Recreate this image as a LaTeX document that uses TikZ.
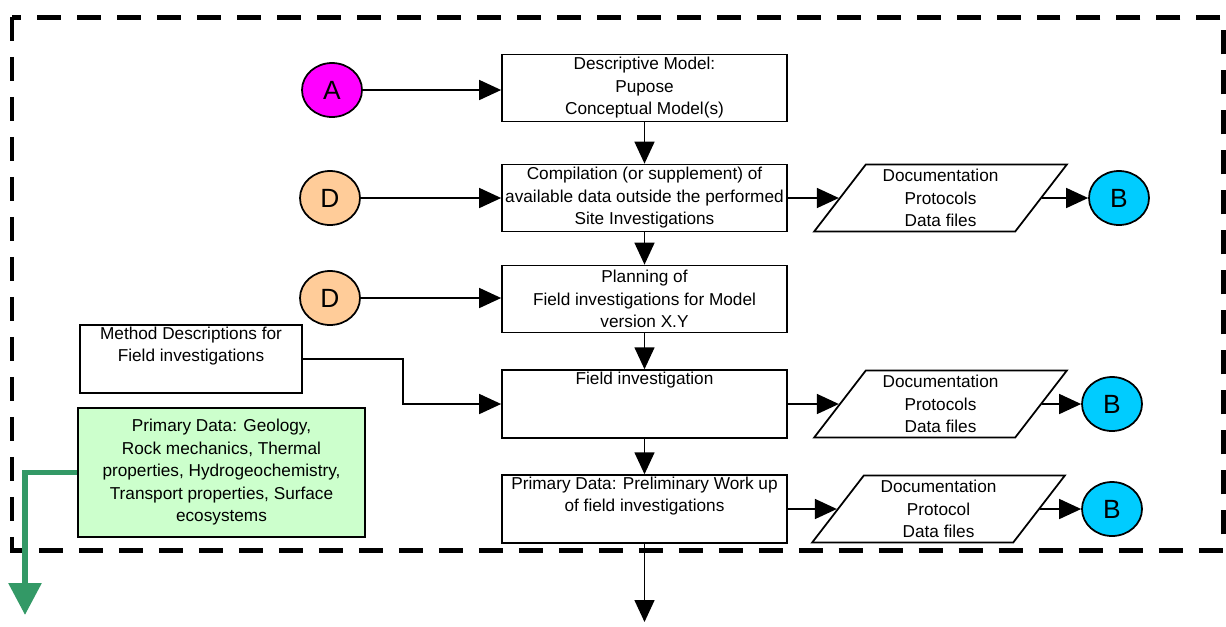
\documentclass[tikz,border=0pt]{standalone}
\usepackage{fontspec}
\setmainfont{Liberation Sans}
\usetikzlibrary{arrows.meta,shapes.geometric}
\definecolor{circA}{HTML}{FF00FF}
\definecolor{circD}{HTML}{FFCC99}
\definecolor{circB}{HTML}{00CCFF}
\definecolor{primfill}{HTML}{CCFFCC}
\definecolor{primline}{HTML}{339966}
\tikzset{
    stepbox/.style={draw, line width=1pt, minimum width=5.7cm, minimum height=1.34cm,
        inner sep=1pt, align=center, font=\fontsize{9.8}{12.8}\selectfont},
    docbox/.style={draw, line width=1pt, trapezium, trapezium left angle=56,
        trapezium right angle=124, trapezium stretches=true, minimum width=5.06cm,
        minimum height=1.34cm, inner sep=1pt, align=center, font=\fontsize{9.8}{12.8}\selectfont},
    conn/.style={ellipse, draw, line width=1pt, minimum width=1.2cm, minimum height=1.08cm,
        inner sep=0pt, font=\fontsize{15}{18}\selectfont},
    flow/.style={line width=0.9pt, -{Triangle[length=0.44cm,width=0.4cm]}},
    greenflow/.style={primline, line width=3.4pt, -{Triangle[length=0.64cm,width=0.64cm]}}
}

\begin{document}
\begin{tikzpicture}[x=0.02cm, y=-0.02cm]
        \useasboundingbox (0,0) rectangle (1226,626);
        \draw[line width=0.1cm, dash pattern=on 0.48cm off 0.32cm] (12,17) rectangle (1223,550);
        % main column
        \node[stepbox] (desc) at (644.5,88) {Descriptive Model:\\Pupose\\Conceptual Model(s)};
        \node[stepbox] (comp) at (644.5,198) {Compilation (or supplement) of\\available data outside the performed\\Site Investigations};
        \node[stepbox] (plan) at (644.5,299) {Planning of\\Field investigations for Model\\version X.Y};
        \node[stepbox] (field) at (644.5,404) {Field investigation\\\strut\\\strut};
        \node[stepbox] (prim) at (644.5,509) {Primary Data: Preliminary Work up\\of field investigations\\\strut};
        \coordinate (out) at (644.5,622);
        % inputs
        \node[conn, fill=circA] (A) at (332,90) {A};
        \node[conn, fill=circD] (D1) at (330,198) {D};
        \node[conn, fill=circD] (D2) at (330,298) {D};
        \node[stepbox, minimum width=4.44cm, minimum height=1.36cm] (method) at (191,359) {Method Descriptions for\\Field investigations\\\strut};
        \node[stepbox, fill=primfill, minimum width=5.74cm, minimum height=2.58cm] (primdata) at (221.5,472.5)
            {Primary Data: Geology,\\Rock mechanics, Thermal\\properties, Hydrogeochemistry,\\Transport properties, Surface\\ecosystems};
        \coordinate (gdown) at (25,615);
        % outputs
        \node[docbox] (doc1) at (940.5,198) {Documentation\\Protocols\\Data files};
        \node[docbox] (doc2) at (940.5,404) {Documentation\\Protocols\\Data files};
        \node[docbox] (doc3) at (938.5,509) {Documentation\\Protocol\\Data files};
        \node[conn, fill=circB] (B1) at (1119,198) {B};
        \node[conn, fill=circB] (B2) at (1112,404) {B};
        \node[conn, fill=circB] (B3) at (1112,509) {B};
        % connectors
        \draw[flow] (A.east) -- (A.east -| desc.west);
        \draw[flow] (D1) -- (comp);
        \draw[flow] (D2.east) -- (D2.east -| plan.west);
        \draw[flow] (desc) -- (comp);
        \draw[flow] (comp) -- (plan);
        \draw[flow] (plan) -- (field);
        \draw[flow] (field) -- (prim);
        \draw[flow] (prim) -- (out);
        \draw[flow] (method.east) -- ++(100,0) |- (field.west);
        \draw[flow] (comp) -- (doc1);
        \draw[flow] (field) -- (doc2);
        \draw[flow] (prim) -- (doc3);
        \draw[flow] (doc1) -- (B1);
        \draw[flow] (doc2) -- (B2);
        \draw[flow] (doc3) -- (B3);
        \draw[greenflow] (primdata.west) -| (gdown);
    \end{tikzpicture}
\end{document}
